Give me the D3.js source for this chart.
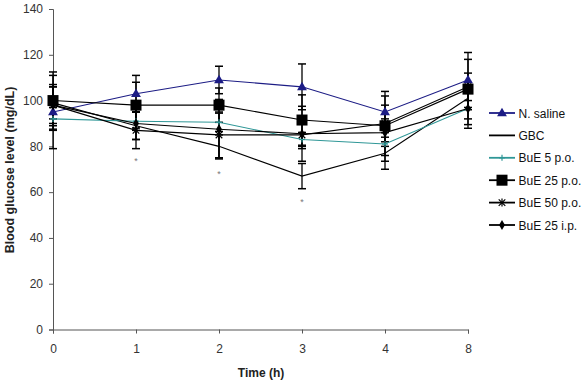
<!DOCTYPE html>
<html><head><meta charset="utf-8">
<script src="https://cdn.jsdelivr.net/npm/d3@7"></script>
<style>body{margin:0;background:#fff;} svg{display:block;font-family:"Liberation Sans",Arial,sans-serif;}</style>
</head><body>
<svg id="c" width="588" height="384"></svg>
<script>
const timeLabels = ["0","1","2","3","4","8"];
const yTicks = [0,20,40,60,80,100,120,140];
const seriesNames = ["N. saline","GBC","BuE 5 p.o.","BuE 25 p.o.","BuE 50 p.o.","BuE 25 i.p."];
const salineVals = [95,103,109,106,95,109];
const salineErr  = [16,8,6,10,9,12];
const gbcVals    = [99,89,80,67,77,101];
const gbcErr     = [7,6,5,5.5,7,5];
const bue5Vals   = [92,91,90.5,83,81,96.5];
const bue5Err    = [5,4,4,3,7.5,7];
const bue25Vals  = [100,98,98,91.5,89,105];
const bue25Err   = [12.5,10,7.5,11,13,13];
const bue50Vals  = [98,87,85,85,90,106];
const bue50Err   = [8,8,10,6,8,6];
const bue25ipVals= [98,90,87.5,85.5,86,96.5];
const bue25ipErr = [9,7,13,12,6,8.6];
const sigIndex = [1,2,3];          // time points with significance asterisk
const sigLevel = [74.5,68.8,56.6]; // value level where the asterisk sits

const series = [
  {name:seriesNames[0], vals:salineVals, err:salineErr, color:"#1c1c85", marker:"triangle"},
  {name:seriesNames[1], vals:gbcVals, err:gbcErr, color:"#000", marker:"none"},
  {name:seriesNames[2], vals:bue5Vals, err:bue5Err, color:"#2f9797", marker:"plus"},
  {name:seriesNames[3], vals:bue25Vals, err:bue25Err, color:"#000", marker:"square"},
  {name:seriesNames[4], vals:bue50Vals, err:bue50Err, color:"#000", marker:"star"},
  {name:seriesNames[5], vals:bue25ipVals, err:bue25ipErr, color:"#000", marker:"diamond"}
];

const svg = d3.select("#c");
const x = d3.scalePoint().domain(timeLabels).range([53,468]);
const y = d3.scaleLinear().domain([0,140]).range([329.5,9]);

// axes
const gx = svg.append("g").attr("transform","translate(0,329.5)")
  .call(d3.axisBottom(x).tickSize(4).tickPadding(11));
const gy = svg.append("g").attr("transform","translate(53,0)")
  .call(d3.axisLeft(y).tickValues(yTicks).tickSize(4).tickPadding(6));
[gx,gy].forEach(g=>{
  g.selectAll("path").attr("stroke","#555").attr("stroke-width",1);
  g.selectAll("line").attr("stroke","#555");
  g.selectAll("text").attr("font-size",12).attr("fill","#333").attr("font-family","Liberation Sans, Arial, sans-serif");
});

svg.append("text").attr("x",261).attr("y",377).attr("text-anchor","middle")
  .attr("font-size",12).attr("font-weight","bold").attr("fill","#222").text("Time (h)");
svg.append("text").attr("transform","translate(13.5,170) rotate(-90)").attr("text-anchor","middle")
  .attr("font-size",12.5).attr("font-weight","bold").attr("fill","#222").text("Blood glucose level (mg/dL)");

// error bars
const cap = 4;
series.forEach(s=>{
  const g = svg.append("g");
  s.vals.forEach((v,i)=>{
    const cx = x(timeLabels[i]);
    const t = y(v + s.err[i]), b = y(v - s.err[i]);
    g.append("line").attr("x1",cx).attr("x2",cx).attr("y1",t).attr("y2",b).attr("stroke","#000").attr("stroke-width",1.3);
    g.append("line").attr("x1",cx-cap).attr("x2",cx+cap).attr("y1",t).attr("y2",t).attr("stroke","#000").attr("stroke-width",1.5);
    g.append("line").attr("x1",cx-cap).attr("x2",cx+cap).attr("y1",b).attr("y2",b).attr("stroke","#000").attr("stroke-width",1.5);
  });
});

// lines
const line = d3.line().x((d,i)=>x(timeLabels[i])).y(d=>y(d));
series.forEach(s=>{
  svg.append("path").datum(s.vals).attr("d",line).attr("fill","none")
    .attr("stroke",s.color).attr("stroke-width",1.1);
});

function drawMarker(g, type, cx, cy, color){
  if(type==="triangle"){
    g.append("path").attr("d",d3.symbol().type(d3.symbolTriangle).size(42)()).attr("transform",`translate(${cx},${cy+0.5})`).attr("fill",color);
  } else if(type==="square"){
    g.append("rect").attr("x",cx-5.5).attr("y",cy-5.5).attr("width",11).attr("height",11).attr("fill","#000");
  } else if(type==="plus"){
    g.append("line").attr("x1",cx-3).attr("x2",cx+3).attr("y1",cy).attr("y2",cy).attr("stroke",color).attr("stroke-width",1.2);
    g.append("line").attr("x1",cx).attr("x2",cx).attr("y1",cy-3).attr("y2",cy+3).attr("stroke",color).attr("stroke-width",1.2);
  } else if(type==="star"){
    g.append("path").attr("d",d3.symbol().type(d3.symbolTimes).size(30)()).attr("transform",`translate(${cx},${cy})`).attr("stroke","#000").attr("stroke-width",1.2).attr("fill","none");
    g.append("line").attr("x1",cx).attr("x2",cx).attr("y1",cy-4).attr("y2",cy+4).attr("stroke","#000").attr("stroke-width",1.2);
  } else if(type==="diamond"){
    g.append("path").attr("d",d3.symbol().type(d3.symbolDiamond).size(30)()).attr("transform",`translate(${cx},${cy})`).attr("fill","#000");
  }
}

series.forEach(s=>{
  const g = svg.append("g");
  s.vals.forEach((v,i)=>drawMarker(g,s.marker,x(timeLabels[i]),y(v),s.color));
});

// significance asterisks
sigIndex.forEach((ti,k)=>{
  svg.append("text").attr("x",x(timeLabels[ti])).attr("y",y(sigLevel[k])).attr("dy","0.55em")
    .attr("text-anchor","middle").attr("font-size",9).attr("fill","#777").text("*");
});

// legend
const lg = svg.append("g");
series.forEach((s,i)=>{
  const ly = 113 + i*22.4;
  lg.append("line").attr("x1",489).attr("x2",515).attr("y1",ly).attr("y2",ly).attr("stroke",s.color).attr("stroke-width",1.8);
  drawMarker(lg,s.marker,502,ly,s.color);
  lg.append("text").attr("x",518.5).attr("y",ly+4.5).attr("font-size",12).attr("fill","#111").text(s.name);
});
</script>
</body></html>
